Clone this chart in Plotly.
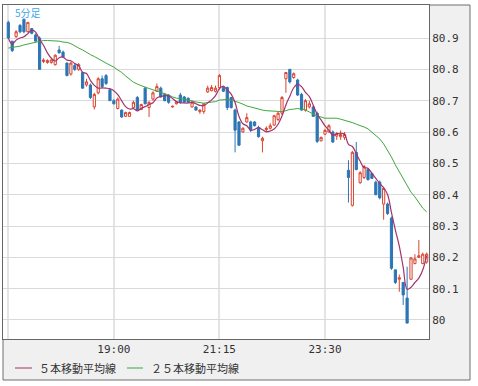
import plotly.graph_objects as go
import pandas as pd

# 5-minute bars, 16:45 -> 01:40
times = pd.date_range("2012-10-01 16:45", periods=108, freq="5min")

open_ = [80.95, 80.89, 80.905, 80.94, 80.96, 80.92, 80.93, 80.91, 80.90, 80.825,
         80.822, 80.822, 80.815, 80.862, 80.855, 80.82, 80.785, 80.812, 80.80, 80.79,
         80.75, 80.75, 80.68, 80.725, 80.77, 80.78, 80.735, 80.70, 80.675, 80.67,
         80.65, 80.65, 80.678, 80.71, 80.672, 80.74, 80.678, 80.705, 80.73, 80.74,
         80.72, 80.718, 80.68, 80.69, 80.718, 80.712, 80.708, 80.68, 80.68, 80.665,
         80.665, 80.728, 80.732, 80.73, 80.742, 80.742, 80.742, 80.71, 80.67, 80.632,
         80.60, 80.632, 80.632, 80.632, 80.615, 80.572, 80.608, 80.612, 80.622, 80.64,
         80.66, 80.77, 80.80, 80.774, 80.766, 80.72, 80.67, 80.68, 80.68, 80.66,
         80.572, 80.593, 80.60, 80.60, 80.587, 80.585, 80.583, 80.478, 80.366, 80.535,
         80.438, 80.455, 80.48, 80.468, 80.44, 80.44, 80.37, 80.37, 80.325, 80.16,
         80.13, 80.12, 80.07, 80.13, 80.18, 80.20, 80.18, 80.185]
high = [80.955, 80.89, 80.925, 80.945, 80.962, 80.95, 80.932, 80.915, 80.905, 80.835,
        80.832, 80.832, 80.848, 80.875, 80.86, 80.822, 80.825, 80.818, 80.82, 80.792,
        80.77, 80.755, 80.725, 80.775, 80.78, 80.785, 80.74, 80.705, 80.71, 80.672,
        80.665, 80.665, 80.70, 80.715, 80.69, 80.745, 80.698, 80.73, 80.755, 80.745,
        80.725, 80.72, 80.684, 80.698, 80.725, 80.715, 80.71, 80.70, 80.682, 80.672,
        80.692, 80.748, 80.75, 80.748, 80.785, 80.745, 80.745, 80.712, 80.675, 80.635,
        80.615, 80.66, 80.636, 80.635, 80.62, 80.585, 80.618, 80.628, 80.655, 80.665,
        80.715, 80.79, 80.80, 80.79, 80.77, 80.725, 80.705, 80.70, 80.685, 80.665,
        80.585, 80.61, 80.625, 80.605, 80.60, 80.605, 80.60, 80.51, 80.54, 80.568,
        80.475, 80.495, 80.485, 80.47, 80.445, 80.445, 80.425, 80.375, 80.33, 80.16,
        80.145, 80.12, 80.17, 80.20, 80.21, 80.255, 80.215, 80.215]
low = [80.90, 80.855, 80.90, 80.915, 80.915, 80.918, 80.912, 80.89, 80.80, 80.82,
       80.818, 80.818, 80.812, 80.85, 80.838, 80.778, 80.78, 80.795, 80.795, 80.738,
       80.745, 80.705, 80.672, 80.72, 80.74, 80.75, 80.70, 80.688, 80.672, 80.645,
       80.648, 80.648, 80.675, 80.668, 80.67, 80.688, 80.648, 80.70, 80.728, 80.71,
       80.698, 80.69, 80.678, 80.688, 80.69, 80.692, 80.692, 80.678, 80.668, 80.658,
       80.658, 80.725, 80.73, 80.726, 80.735, 80.728, 80.67, 80.675, 80.535, 80.555,
       80.598, 80.63, 80.60, 80.618, 80.582, 80.535, 80.60, 80.608, 80.62, 80.635,
       80.655, 80.725, 80.755, 80.77, 80.715, 80.668, 80.665, 80.675, 80.648, 80.565,
       80.57, 80.59, 80.598, 80.565, 80.575, 80.575, 80.575, 80.375, 80.362, 80.478,
       80.435, 80.45, 80.445, 80.45, 80.398, 80.385, 80.32, 80.335, 80.16, 80.115,
       80.09, 80.048, 79.99, 80.128, 80.178, 80.198, 80.178, 80.18]
close = [80.90, 80.86, 80.92, 80.92, 80.92, 80.95, 80.915, 80.89, 80.80, 80.83,
         80.828, 80.83, 80.845, 80.853, 80.84, 80.78, 80.82, 80.80, 80.815, 80.74,
         80.76, 80.71, 80.72, 80.77, 80.745, 80.755, 80.70, 80.69, 80.705, 80.648,
         80.662, 80.662, 80.695, 80.67, 80.688, 80.69, 80.695, 80.725, 80.745, 80.712,
         80.70, 80.695, 80.682, 80.696, 80.695, 80.695, 80.695, 80.695, 80.67, 80.67,
         80.69, 80.74, 80.742, 80.74, 80.78, 80.73, 80.678, 80.678, 80.606, 80.558,
         80.612, 80.646, 80.606, 80.62, 80.585, 80.58, 80.612, 80.62, 80.652, 80.66,
         80.71, 80.79, 80.76, 80.786, 80.718, 80.67, 80.70, 80.69, 80.65, 80.57,
         80.583, 80.605, 80.62, 80.568, 80.595, 80.592, 80.592, 80.455, 80.535, 80.48,
         80.47, 80.49, 80.448, 80.452, 80.40, 80.39, 80.42, 80.34, 80.165, 80.12,
         80.135, 80.08, 79.99, 80.198, 80.195, 80.205, 80.21, 80.21]
ma25 = [80.868, 80.870, 80.871, 80.874, 80.878, 80.881, 80.884, 80.887, 80.890, 80.892,
        80.892, 80.892, 80.890, 80.890, 80.887, 80.886, 80.882, 80.874, 80.868, 80.862,
        80.854, 80.847, 80.841, 80.835, 80.827, 80.820, 80.814, 80.807, 80.798, 80.790,
        80.779, 80.769, 80.759, 80.753, 80.747, 80.743, 80.739, 80.735, 80.732, 80.727,
        80.724, 80.718, 80.712, 80.708, 80.707, 80.705, 80.702, 80.699, 80.696, 80.694,
        80.692, 80.694, 80.696, 80.697, 80.702, 80.704, 80.704, 80.702, 80.699, 80.694,
        80.689, 80.683, 80.680, 80.676, 80.673, 80.670, 80.668, 80.667, 80.665, 80.664,
        80.665, 80.668, 80.672, 80.673, 80.675, 80.673, 80.670, 80.664, 80.657, 80.651,
        80.648, 80.644, 80.644, 80.644, 80.644, 80.641, 80.638, 80.635, 80.630, 80.625,
        80.621, 80.616, 80.610, 80.600, 80.591, 80.578, 80.562, 80.542, 80.520, 80.495,
        80.472, 80.450, 80.428, 80.408, 80.393, 80.374, 80.357, 80.345]
ma5 = pd.Series(close).rolling(5, min_periods=1).mean().tolist()

x_tick_vals = ["2012-10-01 16:45", "2012-10-01 19:00", "2012-10-01 21:15", "2012-10-01 23:30"]
x_tick_text = ["", "19:00", "21:15", "23:30"]
y_tick_vals = [80.0, 80.1, 80.2, 80.3, 80.4, 80.5, 80.6, 80.7, 80.8, 80.9]
y_tick_text = ["80", "80.1", "80.2", "80.3", "80.4", "80.5", "80.6", "80.7", "80.8", "80.9"]
series_names = ["５本移動平均線", "２５本移動平均線"]
series_colors = ["#a3336b", "#3fa63f"]
chart_label = "5分足"

# pixel layout helpers (plot area x 3..429, y 5..339)
W, H = 478, 386
L, R, T, B = 3, 49, 5, 47
PW, PH = W - L - R, H - T - B
def px(x):
    return (x - L) / PW
def py(y):
    return (H - B - y) / PH

fig = go.Figure()
fig.add_trace(go.Candlestick(
    x=times, open=open_, high=high, low=low, close=close,
    increasing=dict(line=dict(color="#d9432e", width=1), fillcolor="#ffffff"),
    decreasing=dict(line=dict(color="#2d75b5", width=1), fillcolor="#2d75b5"),
    whiskerwidth=0, showlegend=False, hoverinfo="skip",
))
fig.add_trace(go.Scatter(x=times, y=ma25, mode="lines", name=series_names[1],
                         line=dict(color=series_colors[1], width=1), showlegend=False))
fig.add_trace(go.Scatter(x=times, y=ma5, mode="lines", name=series_names[0],
                         line=dict(color=series_colors[0], width=1.2, shape="spline"), showlegend=False))

mono = "DejaVu Sans Mono"
fig.update_layout(
    width=W, height=H,
    margin=dict(l=L, r=R, t=T, b=B, pad=0),
    paper_bgcolor="#ffffff", plot_bgcolor="#ffffff",
    boxgap=0.2,
    xaxis=dict(type="date", range=["2012-10-01 16:38:13", "2012-10-02 01:43:00"],
               tickmode="array", tickvals=x_tick_vals, ticktext=x_tick_text,
               showgrid=True, gridcolor="#e4e4e4", gridwidth=2, zeroline=False,
               showline=True, mirror=True, linecolor="#666666", linewidth=1,
               ticks="", tickfont=dict(family=mono, size=11, color="#333333"),
               rangeslider=dict(visible=False)),
    yaxis=dict(range=[79.9393, 81.0054], side="right",
               tickmode="array", tickvals=y_tick_vals, ticktext=y_tick_text,
               showgrid=True, gridcolor="#dadada", gridwidth=1, zeroline=False,
               showline=True, mirror=True, linecolor="#666666", linewidth=1,
               ticks="", tickfont=dict(family=mono, size=11, color="#333333")),
    shapes=[
        dict(type="rect", xref="paper", yref="paper", x0=px(3), x1=px(470), y0=py(380), y1=py(5),
             fillcolor="#f0f0f0", line=dict(color="#6e6e6e", width=1), layer="below"),
        dict(type="rect", xref="paper", yref="paper", x0=0, x1=1, y0=0, y1=1,
             fillcolor="#ffffff", line=dict(width=0), layer="below"),
        dict(type="line", xref="paper", yref="paper", x0=px(15), x1=px(32), y0=py(368), y1=py(368),
             line=dict(color=series_colors[0], width=1)),
        dict(type="line", xref="paper", yref="paper", x0=px(127), x1=px(143), y0=py(368), y1=py(368),
             line=dict(color=series_colors[1], width=1)),
    ],
    annotations=[
        dict(xref="paper", yref="paper", x=px(37), y=py(368), xanchor="left", yanchor="middle",
             text=series_names[0], showarrow=False,
             font=dict(family="Noto Sans CJK JP", size=11, color="#333333")),
        dict(xref="paper", yref="paper", x=px(149), y=py(368), xanchor="left", yanchor="middle",
             text=series_names[1], showarrow=False,
             font=dict(family="Noto Sans CJK JP", size=11, color="#333333")),
        dict(xref="paper", yref="paper", x=px(13), y=py(12.5), xanchor="left", yanchor="middle",
             text=chart_label, showarrow=False,
             font=dict(family="Noto Sans CJK JP", size=10, color="#45a6e6")),
    ],
)

fig.write_html("out.html", config={"displayModeBar": False},
               post_script="document.body.style.margin='0';")
